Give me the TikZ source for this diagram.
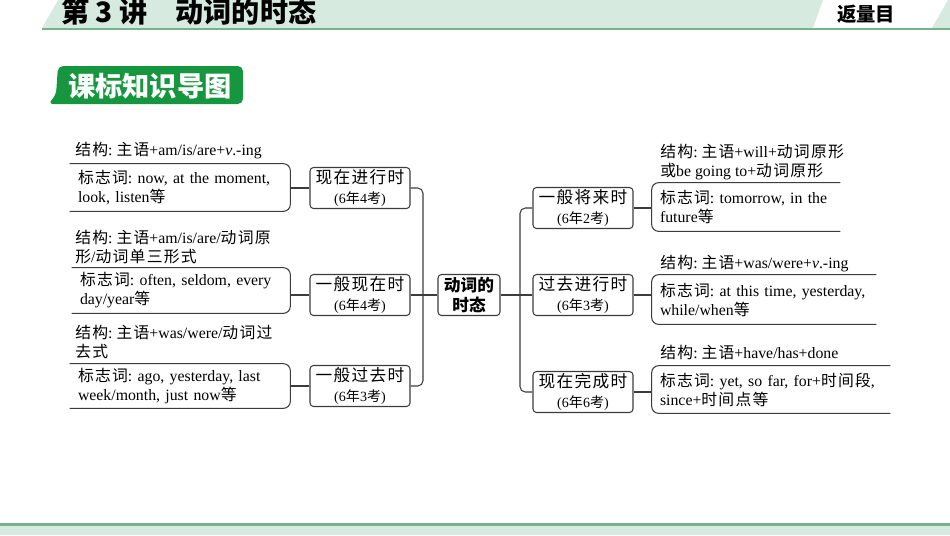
\documentclass[tikz,border=0pt]{standalone}
\usepackage{fontspec}
\setmainfont{Liberation Serif}
\newfontfamily\cjk[LetterSpace=8]{Noto Sans CJK SC}
\newfontfamily\cjkhead{Noto Sans CJK SC}
\newcommand{\zh}[1]{{\cjk #1}}
\newcommand{\kao}[1]{{\fontsize{8}{9}\selectfont(6\zh{年}#1\zh{考})}}
\definecolor{linec}{RGB}{60,60,60}
\definecolor{hdrgreen}{RGB}{214,234,224}
\definecolor{rulegreen}{RGB}{118,178,140}
\definecolor{tagGreen}{RGB}{22,150,62}
\tikzset{tense/.style={draw=linec, line width=0.6pt, rounded corners=2pt, fill=white,
                       align=center, minimum width=2cm, minimum height=0.82cm, inner sep=1pt,
                       font=\fontsize{9.5}{11}\selectfont},
         hub/.style={tense, minimum width=1.24cm, font=\fontsize{9.5}{11.5}\selectfont\cjkhead\bfseries},
         detail/.style={text width=#1, inner xsep=0.16cm, inner ysep=0pt, align=left,
                        font=\fontsize{9}{10.8}\selectfont},
         struct/.style={anchor=west, align=left, inner sep=0pt, font=\fontsize{9}{10.8}\selectfont},
         link/.style={draw=linec, line width=0.6pt, rounded corners=3pt},
         frame/.style={draw=linec, line width=0.6pt, rounded corners=4pt}}
\frenchspacing
\begin{document}
\begin{tikzpicture}[x=0.02cm, y=-0.02cm]
\useasboundingbox (0,0) rectangle (950,535);
% Kopfleiste:
\fill[hdrgreen] (42,28) -- (58,0) -- (823,0) -- (813,28) -- cycle;
\fill[hdrgreen] (932,28) -- (948,0) -- (950,0) -- (950,28) -- cycle;
\fill[rulegreen] (42,27.5) rectangle (950,30);
\node[anchor=west, inner sep=0pt, font=\fontsize{16}{16}\selectfont\cjkhead\bfseries] (title) at (61,12) {第 3 讲\quad 动词的时态};
\node[inner sep=0pt, font=\fontsize{11}{11}\selectfont\cjkhead\bfseries] (back) at (866,14) {返量目};
% Etikett:
\fill[tagGreen, rounded corners=3pt] (58,66) -- (243,66) -- (243,104) -- (48,104) -- (56,95) -- cycle;
\node[text=white, inner sep=0pt, font=\fontsize{15.5}{15.5}\selectfont\cjkhead\bfseries] (tag) at (150,86) {课标知识导图};
% Fusszeile:
\fill[hdrgreen] (0,525) rectangle (950,535);
\fill[rulegreen] (0,523) rectangle (950,525.5);
% Zeitformen:
\node[hub] (hub) at (469,295) {动词的\\时态};
\node[tense] (prog) at (360,188) {\zh{现在进行时}\\\kao{4}};
\node[tense] (pres) at (360,295) {\zh{一般现在时}\\\kao{4}};
\node[tense] (past) at (360,386) {\zh{一般过去时}\\\kao{3}};
\node[tense] (fut) at (583,208) {\zh{一般将来时}\\\kao{2}};
\node[tense] (pprog) at (583,295) {\zh{过去进行时}\\\kao{3}};
\node[tense] (perf) at (583,392) {\zh{现在完成时}\\\kao{6}};
\coordinate (lbus) at (423,295);
\coordinate (rbus) at (520,295);
\draw[link] (prog.east) -| (lbus) |- (past.east);
\draw[link] (pres.east) -- (hub.west);
\draw[link] (fut.west) -| (rbus) |- (perf.west);
\draw[link] (hub.east) -- (pprog.west);
% links: Struktur und Signalwoerter
\node[struct] (s1) at (75,151) {\zh{结构}: \zh{主语}+am/is/are+\textit{v}.-ing};
\node[struct] (s2) at (75,247) {\zh{结构}: \zh{主语}+am/is/are/\zh{动词原}\\\zh{形}/\zh{动词单三形式}};
\node[struct] (s3) at (75,342) {\zh{结构}: \zh{主语}+was/were/\zh{动词过}\\\zh{去式}};
\node[detail=4.08cm, minimum height=0.94cm] (d1) at (180,187.5) {\zh{标志词}: now, at the moment,\\look, listen\zh{等}};
\node[detail=4.04cm, minimum height=0.9cm] (d2) at (181,290.5) {\zh{标志词}: often, seldom, every\\day/year\zh{等}};
\node[detail=4.08cm, minimum height=0.88cm] (d3) at (180,386) {\zh{标志词}: ago, yesterday, last\\week/month, just now\zh{等}};
\foreach \d in {d1,d2,d3}
  \draw[frame] (\d.north west) -- (\d.north east) -- (\d.south east) -- (\d.south west);
\draw[link] (d1.east |- prog.west) -- (prog.west);
\draw[link] (d2.east |- pres.west) -- (pres.west);
\draw[link] (d3.east |- past.west) -- (past.west);
% rechts: Struktur und Signalwoerter
\node[struct] (s4) at (660,162.5) {\zh{结构}: \zh{主语}+will+\zh{动词原形}\\\zh{或}be going to+\zh{动词原形}};
\node[struct] (s5) at (660,264) {\zh{结构}: \zh{主语}+was/were+\textit{v}.-ing};
\node[struct] (s6) at (660,352) {\zh{结构}: \zh{主语}+have/has+done};
\node[detail=3.44cm, minimum height=0.96cm] (r1) at (746,207) {\zh{标志词}: tomorrow, in the\\future\zh{等}};
\node[detail=4.16cm, minimum height=0.98cm] (r2) at (764,299.5) {\zh{标志词}: at this time, yesterday,\\while/when\zh{等}};
\node[detail=4.44cm, minimum height=0.94cm] (r3) at (771,389.5) {\zh{标志词}: yet, so far, for+\zh{时间段},\\since+\zh{时间点等}};
\foreach \r in {r1,r2,r3}
  \draw[frame] (\r.north east) -- (\r.north west) -- (\r.south west) -- (\r.south east);
\draw[link] (fut.east) -- (fut.east -| r1.west);
\draw[link] (pprog.east) -- (pprog.east -| r2.west);
\draw[link] (perf.east) -- (perf.east -| r3.west);
\end{tikzpicture}
\end{document}
